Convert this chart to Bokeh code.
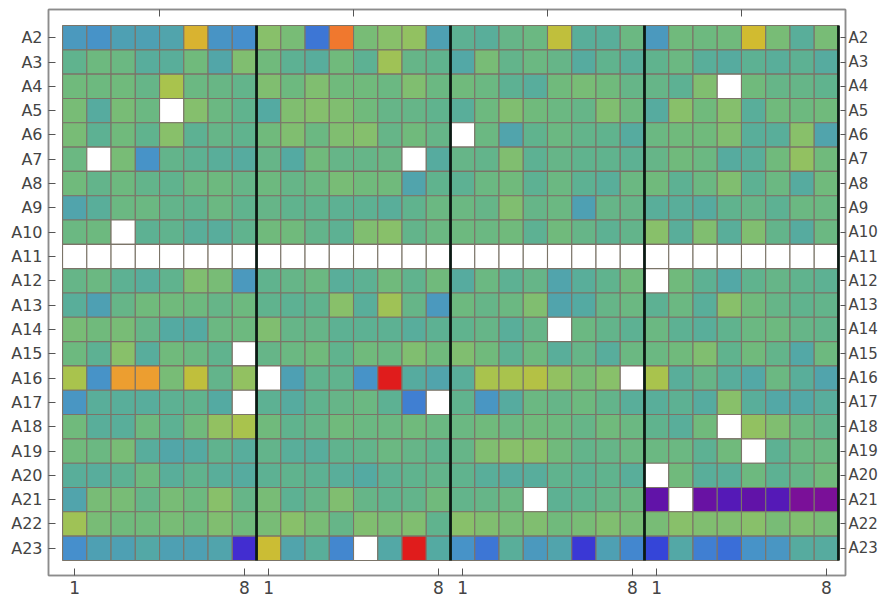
import numpy as np
from bokeh.plotting import figure
from bokeh.models import ColumnDataSource, LinearColorMapper, FixedTicker, LinearAxis, Range1d
from bokeh.transform import transform
from bokeh.embed import file_html
from bokeh.resources import INLINE

# ---------------- data ----------------
row_labels = ["A2", "A3", "A4", "A5", "A6", "A7", "A8", "A9", "A10", "A11", "A12",
              "A13", "A14", "A15", "A16", "A17", "A18", "A19", "A20", "A21", "A22", "A23"]
block_tick_labels = ["1", "8"]
n_blocks = 4
block_size = 8
N = None  # missing value (white cell)

A2 = [0.36, 0.32, 0.40, 0.40, 0.42, 0.80, 0.33, 0.30,
      0.64, 0.60, 0.24, 0.92, 0.60, 0.64, 0.66, 0.40,
      0.50, 0.48, 0.54, 0.56, 0.74, 0.48, 0.48, 0.56,
      0.36, 0.58, 0.57, 0.58, 0.77, 0.60, 0.48, 0.60]
A3 = [0.52, 0.57, 0.56, 0.47, 0.48, 0.58, 0.43, 0.62,
      0.58, 0.50, 0.47, 0.58, 0.50, 0.68, 0.54, 0.52,
      0.44, 0.60, 0.53, 0.56, 0.54, 0.46, 0.52, 0.48,
      0.52, 0.56, 0.48, 0.46, 0.50, 0.48, 0.50, 0.46]
A4 = [0.58, 0.57, 0.58, 0.54, 0.70, 0.56, 0.55, 0.53,
      0.62, 0.57, 0.62, 0.58, 0.58, 0.56, 0.62, 0.56,
      0.58, 0.56, 0.50, 0.47, 0.58, 0.60, 0.58, 0.54,
      0.54, 0.50, 0.62, N, 0.58, 0.54, 0.54, 0.52]
A5 = [0.60, 0.46, 0.60, 0.56, N, 0.63, 0.56, 0.52,
      0.45, 0.62, 0.63, 0.62, 0.58, 0.54, 0.54, 0.52,
      0.48, 0.57, 0.62, 0.58, 0.56, 0.54, 0.62, 0.57,
      0.46, 0.64, 0.58, 0.63, 0.48, 0.58, 0.57, 0.58]
A6 = [0.60, 0.50, 0.58, 0.52, 0.64, 0.50, 0.54, 0.52,
      0.58, 0.62, 0.56, 0.62, 0.63, 0.54, 0.58, 0.54,
      N, 0.56, 0.42, 0.52, 0.56, 0.53, 0.52, 0.46,
      0.56, 0.58, 0.58, 0.62, 0.48, 0.48, 0.64, 0.42]
A7 = [0.56, N, 0.60, 0.32, 0.53, 0.50, 0.48, 0.46,
      0.54, 0.45, 0.58, 0.54, 0.54, 0.55, N, 0.46,
      0.54, 0.53, 0.62, 0.50, 0.54, 0.52, 0.52, 0.50,
      0.54, 0.58, 0.56, 0.46, 0.48, 0.58, 0.66, 0.58]
A8 = [0.58, 0.53, 0.57, 0.53, 0.52, 0.56, 0.57, 0.54,
      0.57, 0.54, 0.56, 0.60, 0.58, 0.58, 0.42, 0.52,
      0.50, 0.56, 0.58, 0.50, 0.56, 0.50, 0.48, 0.56,
      0.58, 0.50, 0.56, 0.62, 0.50, 0.56, 0.46, 0.58]
A9 = [0.42, 0.48, 0.56, 0.56, 0.53, 0.52, 0.56, 0.52,
      0.54, 0.52, 0.52, 0.50, 0.50, 0.48, 0.52, 0.56,
      0.56, 0.54, 0.62, 0.54, 0.56, 0.40, 0.54, 0.54,
      0.48, 0.48, 0.46, 0.52, 0.54, 0.50, 0.56, 0.56]
A10 = [0.56, 0.57, N, 0.50, 0.52, 0.48, 0.47, 0.52,
       0.58, 0.58, 0.53, 0.50, 0.62, 0.64, 0.53, 0.56,
       0.57, 0.56, 0.58, 0.50, 0.58, 0.54, 0.50, 0.53,
       0.64, 0.48, 0.62, 0.48, 0.62, 0.53, 0.46, 0.56]
A11 = [N, N, N, N, N, N, N, N,
       N, N, N, N, N, N, N, N,
       N, N, N, N, N, N, N, N,
       N, N, N, N, N, N, N, N]
A12 = [0.54, 0.56, 0.50, 0.47, 0.52, 0.62, 0.60, 0.36,
       0.52, 0.54, 0.56, 0.48, 0.50, 0.58, 0.52, 0.58,
       0.46, 0.56, 0.50, 0.54, 0.42, 0.48, 0.52, 0.58,
       N, 0.58, 0.50, 0.44, 0.52, 0.54, 0.52, 0.50]
A13 = [0.48, 0.40, 0.54, 0.58, 0.58, 0.57, 0.54, 0.57,
       0.52, 0.50, 0.52, 0.64, 0.48, 0.68, 0.54, 0.36,
       0.57, 0.54, 0.56, 0.62, 0.42, 0.45, 0.54, 0.56,
       0.50, 0.56, 0.48, 0.64, 0.58, 0.54, 0.52, 0.53]
A14 = [0.60, 0.58, 0.60, 0.54, 0.45, 0.45, 0.56, 0.57,
       0.62, 0.54, 0.54, 0.50, 0.50, 0.50, 0.47, 0.50,
       0.52, 0.54, 0.48, 0.54, N, 0.56, 0.53, 0.50,
       0.56, 0.50, 0.48, 0.52, 0.56, 0.57, 0.54, 0.53]
A15 = [0.57, 0.50, 0.64, 0.47, 0.58, 0.56, 0.52, N,
       0.54, 0.56, 0.58, 0.52, 0.58, 0.56, 0.62, 0.58,
       0.62, 0.58, 0.50, 0.57, 0.48, 0.54, 0.47, 0.56,
       0.56, 0.58, 0.62, 0.52, 0.58, 0.53, 0.44, 0.57]
A16 = [0.70, 0.32, 0.86, 0.86, 0.60, 0.74, 0.53, 0.66,
       N, 0.40, 0.52, 0.52, 0.32, 1.00, 0.46, 0.42,
       0.48, 0.70, 0.70, 0.72, 0.66, 0.60, 0.64, N,
       0.70, 0.48, 0.54, 0.47, 0.44, 0.56, 0.48, 0.42]
A17 = [0.34, 0.48, 0.48, 0.47, 0.50, 0.52, 0.45, N,
       0.50, 0.46, 0.52, 0.54, 0.56, 0.50, 0.26, N,
       0.52, 0.34, 0.46, 0.56, 0.54, 0.57, 0.53, 0.48,
       0.48, 0.50, 0.46, 0.64, 0.48, 0.44, 0.44, 0.47]
A18 = [0.58, 0.48, 0.48, 0.57, 0.50, 0.58, 0.66, 0.70,
       0.58, 0.52, 0.54, 0.58, 0.56, 0.56, 0.58, 0.56,
       0.56, 0.58, 0.56, 0.58, 0.57, 0.54, 0.58, 0.56,
       0.52, 0.48, 0.58, N, 0.66, 0.62, 0.56, 0.53]
A19 = [0.58, 0.56, 0.60, 0.47, 0.43, 0.45, 0.52, 0.47,
       0.53, 0.48, 0.47, 0.52, 0.53, 0.56, 0.54, 0.52,
       0.54, 0.62, 0.64, 0.64, 0.58, 0.53, 0.54, 0.56,
       0.56, 0.56, 0.50, 0.58, N, 0.50, 0.56, 0.56]
A20 = [0.48, 0.47, 0.50, 0.57, 0.48, 0.52, 0.48, 0.46,
       0.50, 0.52, 0.50, 0.48, 0.45, 0.50, 0.52, 0.53,
       0.52, 0.48, 0.46, 0.47, 0.52, 0.50, 0.52, 0.48,
       N, 0.58, 0.48, 0.48, 0.57, 0.50, 0.54, 0.58]
A21 = [0.42, 0.60, 0.60, 0.54, 0.60, 0.57, 0.64, 0.54,
       0.60, 0.50, 0.54, 0.62, 0.54, 0.52, 0.53, 0.58,
       0.53, 0.54, 0.56, N, 0.50, 0.52, 0.54, 0.56,
       0.04, N, 0.03, 0.07, 0.04, 0.07, 0.00, 0.00]
A22 = [0.68, 0.60, 0.58, 0.58, 0.60, 0.58, 0.62, 0.58,
       0.60, 0.64, 0.60, 0.54, 0.62, 0.60, 0.62, 0.52,
       0.64, 0.62, 0.60, 0.62, 0.58, 0.60, 0.62, 0.60,
       0.60, 0.64, 0.62, 0.62, 0.64, 0.60, 0.62, 0.60]
A23 = [0.30, 0.40, 0.40, 0.44, 0.40, 0.40, 0.42, 0.12,
       0.76, 0.42, 0.48, 0.28, N, 0.44, 1.00, 0.45,
       0.32, 0.24, 0.48, 0.36, 0.42, 0.14, 0.40, 0.28,
       0.16, 0.44, 0.26, 0.22, 0.32, 0.34, 0.46, 0.46]

all_rows = [A2, A3, A4, A5, A6, A7, A8, A9, A10, A11, A12,
            A13, A14, A15, A16, A17, A18, A19, A20, A21, A22, A23]

# ---------------- colour map ----------------
anchors = [(0.00, "#7a1098"), (0.05, "#5a14ac"), (0.10, "#4a22cc"), (0.15, "#3440d8"),
           (0.22, "#3a6ed8"), (0.30, "#4690cc"), (0.38, "#4c9cba"), (0.45, "#54aaa2"),
           (0.52, "#60b38e"), (0.58, "#70ba7c"), (0.64, "#88c06a"), (0.70, "#a8c34e"),
           (0.77, "#d0bc30"), (0.86, "#eca030"), (0.92, "#f07a2e"), (1.00, "#e01c1c")]


def _rgb(h):
    return [int(h[i:i + 2], 16) for i in (1, 3, 5)]


palette = []
for i in range(256):
    t = i / 255
    for (t0, c0), (t1, c1) in zip(anchors[:-1], anchors[1:]):
        if t0 <= t <= t1:
            f = (t - t0) / (t1 - t0)
            a, b = _rgb(c0), _rgb(c1)
            palette.append("#%02x%02x%02x" % tuple(round(a[k] + (b[k] - a[k]) * f) for k in range(3)))
            break

mapper = LinearColorMapper(palette=palette, low=0, high=1, nan_color="white")

# ---------------- cells ----------------
n_rows = len(row_labels)
n_cols = n_blocks * block_size
xs, ys, vs = [], [], []
for r, row in enumerate(all_rows):
    for c, v in enumerate(row):
        xs.append(c + 0.5)
        ys.append(n_rows - r - 0.5)
        vs.append(np.nan if v is None else v)
src = ColumnDataSource(dict(x=xs, y=ys, v=np.array(vs, dtype=float)))

p = figure(width=880, height=600, output_backend="svg", toolbar_location=None,
           x_range=Range1d(-0.58, n_cols + 0.29), y_range=Range1d(-0.62, n_rows + 0.66),
           x_axis_location=None, y_axis_location=None,
           min_border_left=48, min_border_right=0, min_border_top=9, min_border_bottom=25)
p.grid.visible = False
p.outline_line_color = "#8c8c8c"
p.outline_line_width = 1.5
p.background_fill_color = "white"
p.border_fill_color = "white"

p.rect(x="x", y="y", width=1, height=1, source=src,
       fill_color=transform("v", mapper), line_color="#7b7468", line_width=1.1)

edges = [block_size * (b + 1) for b in range(n_blocks)]
p.segment(x0=edges, y0=[0] * n_blocks, x1=edges, y1=[n_rows] * n_blocks,
          line_color="#0c1a14", line_width=2.8)

# ---------------- axes ----------------
ytick_pos = [n_rows - r - 0.5 for r in range(n_rows)]
ylabels = {y: lab for y, lab in zip(ytick_pos, row_labels)}
xtick_pos = []
xlabels = {}
for b in range(n_blocks):
    for k, lab in zip([0, block_size - 1], block_tick_labels):
        pos = b * block_size + k + 0.5
        xtick_pos.append(pos)
        xlabels[pos] = lab
top_pos = [b * block_size + block_size / 2 for b in range(n_blocks)]


def style(ax, size="15px", standoff=6, tick_in=7):
    ax.axis_line_color = "#8c8c8c"
    ax.axis_line_width = 1.5
    ax.major_tick_line_color = "#555555"
    ax.major_tick_in = tick_in
    ax.major_tick_out = 0
    ax.minor_tick_line_color = None
    ax.major_label_text_font = "DejaVu Sans"
    ax.major_label_text_color = "#444444"
    ax.major_label_text_font_size = size
    ax.major_label_standoff = standoff


left = LinearAxis(ticker=FixedTicker(ticks=ytick_pos), major_label_overrides=ylabels)
style(left, "16px", 6)
p.add_layout(left, "left")
right = LinearAxis(ticker=FixedTicker(ticks=ytick_pos), major_label_overrides=ylabels)
style(right, "15px", 3, 5)
p.add_layout(right, "right")
bottom = LinearAxis(ticker=FixedTicker(ticks=xtick_pos), major_label_overrides=xlabels)
style(bottom, "17px", 5)
p.add_layout(bottom, "below")
top = LinearAxis(ticker=FixedTicker(ticks=top_pos),
                 major_label_overrides={t: "" for t in top_pos})
style(top, "1px", 0)
p.add_layout(top, "above")

open("out.html", "w").write(file_html(p, INLINE))
